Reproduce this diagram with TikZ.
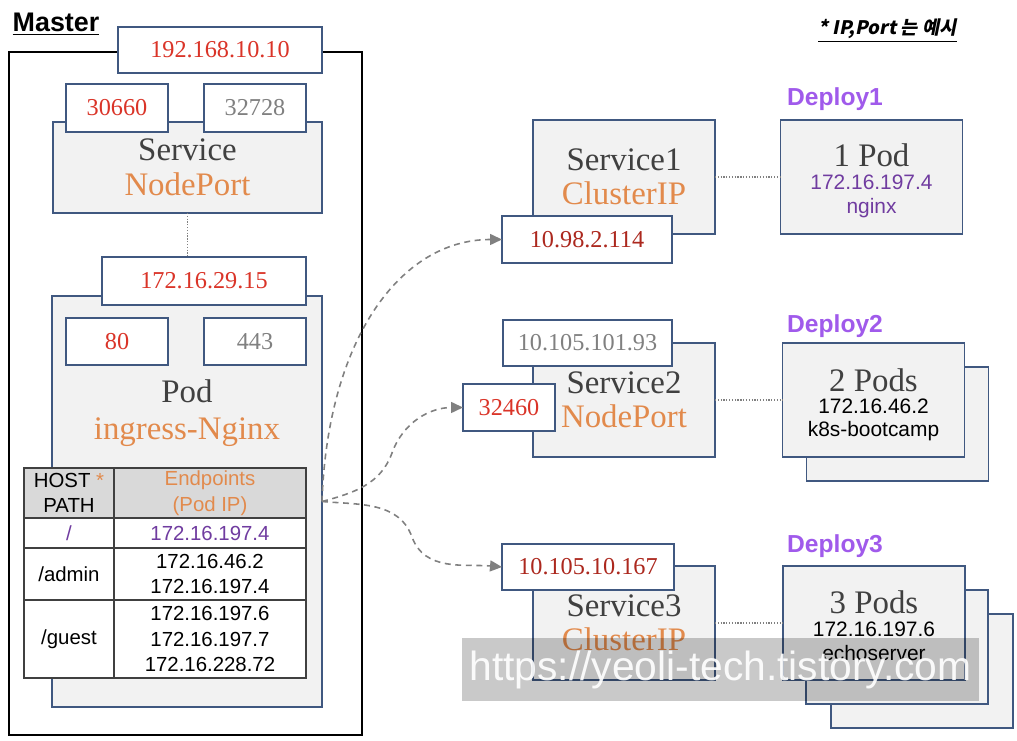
\documentclass[tikz,border=0pt]{standalone}
\usepackage{fontspec}
\setmainfont{Liberation Serif}
\setsansfont{Liberation Sans}
\newfontfamily\krfont[FakeSlant=0.2]{Noto Sans CJK KR}
\usepackage{xcolor}
\usepackage{tikz}
\usetikzlibrary{arrows.meta,positioning}
\definecolor{boxblue}{RGB}{64,88,128}
\definecolor{panegrey}{RGB}{242,242,242}
\definecolor{ipred}{RGB}{218,52,40}
\definecolor{ipdark}{RGB}{172,40,30}
\definecolor{portgrey}{RGB}{128,128,128}
\definecolor{nodeorange}{RGB}{226,138,76}
\definecolor{deployviolet}{RGB}{160,90,235}
\definecolor{podpurple}{RGB}{112,60,160}
\definecolor{svctext}{RGB}{64,64,64}
\definecolor{tblline}{RGB}{64,64,64}
\definecolor{tblhead}{RGB}{217,217,217}
\definecolor{routegrey}{RGB}{128,128,128}
\tikzset{
  box/.style={draw=boxblue,line width=1.1pt,fill=white,inner sep=0pt,outer sep=0pt},
  pane/.style={box,fill=panegrey},
  ipbox/.style={box,font=\fontsize{13.8}{16}\selectfont},
  title/.style={align=center,text=svctext,font=\fontsize{18.7}{19.6}\selectfont},
  stack/.style={pane,minimum width=3.64cm,minimum height=2.28cm},
  podinfo/.style={align=center,font=\sffamily\fontsize{11.9}{13.4}\selectfont},
  deploy/.style={anchor=west,text=deployviolet,font=\sffamily\bfseries\fontsize{14}{16}\selectfont},
  cell/.style={draw=tblline,line width=1pt,fill=white,inner sep=0pt,outer sep=0pt,
               anchor=north west,align=center,font=\sffamily\fontsize{11.6}{14.5}\selectfont},
  colA/.style={cell,minimum width=1.8cm},
  colB/.style={cell,minimum width=3.84cm},
  wire/.style={dash pattern=on 0.7pt off 0.9pt,line width=0.8pt,draw=gray},
  route/.style={dash pattern=on 3.4pt off 2.6pt,line width=0.9pt,draw=routegrey,
                -{Triangle[length=2.4mm,width=2.2mm]}}
}

\begin{document}
\begin{tikzpicture}
  \useasboundingbox (0,0) rectangle (20.34,-14.82);

  % master node
  \node[draw=black,line width=1.4pt,inner sep=0pt,minimum width=7.06cm,minimum height=13.66cm]
    (master) at (3.71,-7.87) {};
  \node[font=\sffamily\bfseries\fontsize{15.3}{18}\selectfont] (mlabel) at (1.12,-0.48) {\underline{Master}};
  \node[ipbox,minimum width=4.08cm,minimum height=0.92cm,text=ipred] (hostip) at (4.40,-1.00) {192.168.10.10};

  \node[pane,title,minimum width=5.38cm,minimum height=1.82cm] (np) at (3.75,-3.35)
    {Service\\\textcolor{nodeorange}{NodePort}};
  \node[ipbox,minimum width=2.04cm,minimum height=0.96cm,text=ipred] (np1) at (2.34,-2.16) {30660};
  \node[ipbox,minimum width=2.04cm,minimum height=0.96cm,text=portgrey] (np2) at (5.10,-2.16) {32728};

  \node[pane,minimum width=5.40cm,minimum height=8.22cm] (ing) at (3.74,-10.03) {};
  \node[ipbox,minimum width=4.08cm,minimum height=0.96cm,text=ipred] (podip) at (4.08,-5.62) {172.16.29.15};
  \node[ipbox,minimum width=2.04cm,minimum height=0.94cm,text=ipred] (p80) at (2.34,-6.83) {80};
  \node[ipbox,minimum width=2.04cm,minimum height=0.94cm,text=portgrey] (p443) at (5.10,-6.83) {443};
  \node[title,font=\fontsize{18.7}{21}\selectfont] (ingtxt) at (3.74,-8.26)
    {Pod\\\textcolor{nodeorange}{ingress-Nginx}};
  \draw[wire] (np.south) -- (np.south |- podip.north);

  % ingress rules
  \node[colA,fill=tblhead,minimum height=1cm] (hpath) at (0.48,-9.36) {HOST \textcolor{nodeorange}{*}\\PATH};
  \node[colB,fill=tblhead,minimum height=1cm,text=nodeorange,right=0pt of hpath] (hep) {Endpoints\\(Pod IP)};
  \node[colA,minimum height=0.6cm,text=podpurple,below=0pt of hpath] (root) {/};
  \node[colB,minimum height=0.6cm,text=podpurple,below=0pt of hep] (rootep) {172.16.197.4};
  \node[colA,minimum height=1.04cm,below=0pt of root] (admin) {/admin};
  \node[colB,minimum height=1.04cm,below=0pt of rootep] (adminep) {172.16.46.2\\172.16.197.4};
  \node[colA,minimum height=1.56cm,below=0pt of admin] (guest) {/guest};
  \node[colB,minimum height=1.56cm,below=0pt of adminep] (guestep) {172.16.197.6\\172.16.197.7\\172.16.228.72};

  % deploy 1
  \node[pane,title,minimum width=3.64cm,minimum height=2.28cm] (svc1) at (12.48,-3.54)
    {Service1\\\textcolor{nodeorange}{ClusterIP}};
  \node[ipbox,minimum width=3.40cm,minimum height=0.94cm,text=ipdark] (svc1ip) at (11.74,-4.79) {10.98.2.114};
  \node[deploy] (dep1) at (15.62,-1.98) {Deploy1};
  \node[stack] (pods1) at (17.43,-3.54) {};
  \node[title] (pods1n) at (17.43,-3.10) {1 Pod};
  \node[podinfo,text=podpurple] (pods1i) at (17.43,-3.93) {172.16.197.4\\nginx};
  \draw[wire] (svc1) -- (pods1);

  % deploy 2
  \node[pane,title,minimum width=3.64cm,minimum height=2.28cm] (svc2) at (12.48,-8.00)
    {Service2\\\textcolor{nodeorange}{NodePort}};
  \node[ipbox,minimum width=3.38cm,minimum height=0.92cm,text=portgrey] (svc2ip) at (11.75,-6.86) {10.105.101.93};
  \node[ipbox,minimum width=1.84cm,minimum height=0.94cm,text=ipred] (svc2np) at (10.18,-8.15) {32460};
  \node[deploy] (dep2) at (15.62,-6.52) {Deploy2};
  \node[stack] (pods2b) at (17.95,-8.48) {};
  \node[stack] (pods2) at (17.47,-8.00) {};
  \node[title] (pods2n) at (17.47,-7.60) {2 Pods};
  \node[podinfo] (pods2i) at (17.47,-8.40) {172.16.46.2\\k8s-bootcamp};
  \draw[wire] (svc2) -- (pods2);

  % deploy 3
  \node[pane,title,minimum width=3.64cm,minimum height=2.28cm] (svc3) at (12.48,-12.46)
    {Service3\\\textcolor{nodeorange}{ClusterIP}};
  \node[ipbox,minimum width=3.44cm,minimum height=0.92cm,text=ipdark] (svc3ip) at (11.76,-11.34) {10.105.10.167};
  \node[deploy] (dep3) at (15.62,-10.92) {Deploy3};
  \node[stack] (pods3c) at (18.44,-13.42) {};
  \node[stack] (pods3b) at (17.94,-12.94) {};
  \node[stack] (pods3) at (17.48,-12.46) {};
  \node[title] (pods3n) at (17.48,-12.04) {3 Pods};
  \node[podinfo] (pods3i) at (17.48,-12.83) {172.16.197.6\\echoserver};
  \draw[wire] (svc3) -- (pods3);

  % routes from the ingress
  \coordinate (fan) at (ing.east);
  \draw[route] (fan) .. controls (6.55,-6.8) and (8.0,-4.79) .. (svc1ip.west);
  \draw[route] (fan) to[out=15,in=-110] (7.84,-9.06) to[out=70,in=180] (svc2np.west);
  \draw[route] (fan) to[out=-5,in=110] (8.24,-10.74) to[out=-70,in=175] (svc3ip.west);

  \node[font=\krfont\bfseries\fontsize{10.6}{12}\selectfont] (note) at (17.75,-0.62) {\underline{* IP,Port 는 예시}};

  \node[fill=black,fill opacity=0.21,text=white,text opacity=0.92,inner sep=0pt,
        minimum width=10.34cm,minimum height=1.26cm,font=\sffamily\fontsize{23.2}{26}\selectfont]
    (mark) at (14.41,-13.39) {https://yeoli-tech.tistory.com};
\end{tikzpicture}
\end{document}
